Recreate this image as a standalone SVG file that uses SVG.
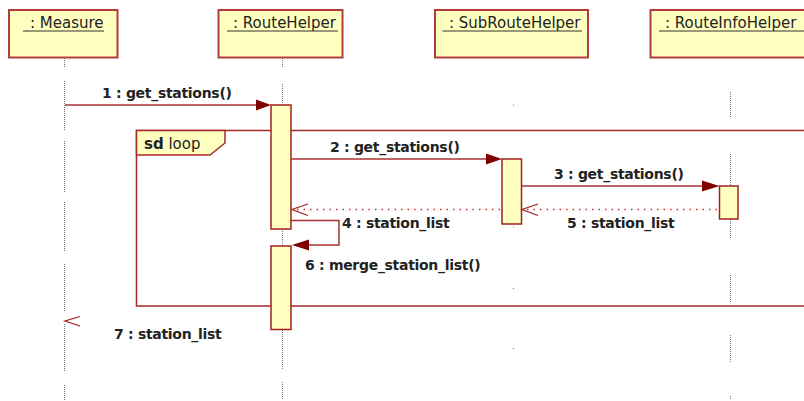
<svg xmlns="http://www.w3.org/2000/svg" width="804" height="401" viewBox="0 0 804 401">
<style>
.hdr{fill:#FFFFC0;stroke:#B23C3C;stroke-width:2}
.act{fill:#FFFFC0;stroke:#A32020;stroke-width:1.5}
.ll{stroke:#707070;stroke-width:1;stroke-dasharray:1 1;fill:none}
.ht{font-family:"DejaVu Sans",sans-serif;font-size:15px;fill:#222}
.ul{stroke:#333;stroke-width:1}
.msg{stroke:#A83232;stroke-width:1.5;fill:none}
.ret{stroke:#C03030;stroke-width:1.3;fill:none;stroke-dasharray:1.5 5}
.open{stroke:#A52020;stroke-width:1.3;fill:none}
.head{fill:#800000}
.ml{font-family:"DejaVu Sans",sans-serif;font-size:14px;font-weight:bold;fill:#222;letter-spacing:-0.3px}
.frame{stroke:#A52A2A;stroke-width:1.5;fill:none}
</style>
<rect width="804" height="401" fill="#fff"/>
<g id="loop-frame">
<polyline class="frame" points="810,130.5 136.5,130.5 136.5,306 810,306"/>
<polygon points="136.5,130.5 225,130.5 225,143 210,155 136.5,155" fill="#FFFFC0" stroke="#A52A2A" stroke-width="1.5"/>
<text x="144" y="148.5" class="ht"><tspan font-weight="bold">sd</tspan> loop</text>
</g>
<g id="measure">
<rect class="hdr" x="9" y="10" width="108.5" height="47.5"/>
<text x="30" y="28" class="ht">: Measure</text>
<line class="ul" x1="23" y1="31" x2="104" y2="31"/>
<path class="ll" d="M64.5,58V68M64.5,81V131M64.5,141V192M64.5,202V252M64.5,264V312M64.5,324V372M64.5,385V400"/>
</g>
<g id="routehelper">
<rect class="hdr" x="218.5" y="10" width="124" height="47.5"/>
<text x="233" y="28" class="ht">: RouteHelper</text>
<line class="ul" x1="227" y1="31" x2="338" y2="31"/>
<path class="ll" d="M282.5,58V67M282.5,84V105M282.5,229V246M282.5,330V370M282.5,382V400"/>
</g>
<g id="subroutehelper">
<rect class="hdr" x="435" y="10" width="153" height="47.5"/>
<text x="449" y="28" class="ht">: SubRouteHelper</text>
<line class="ul" x1="442.5" y1="31" x2="582" y2="31"/>
<path class="ll" d="M513.5,104.5v1M513.5,226.5v1.5M513.5,288v1M513.5,348v1"/>
</g>
<g id="routeinfohelper">
<rect class="hdr" x="650.5" y="10" width="160" height="47.5"/>
<text x="665" y="28" class="ht">: RouteInfoHelper</text>
<line class="ul" x1="659" y1="31" x2="804" y2="31"/>
<path class="ll" d="M730.5,92V118M730.5,154V185M730.5,219V238M730.5,275V302M730.5,335V362M730.5,396V400"/>
</g>
<g id="activations">
<rect class="act" x="271" y="105" width="20" height="124"/>
<rect class="act" x="271" y="246" width="20" height="83.5"/>
<rect class="act" x="502" y="159" width="19.5" height="65"/>
<rect class="act" x="719.5" y="186" width="18.5" height="33"/>
</g>
<g id="connectors">
<line class="msg" x1="65" y1="105" x2="258" y2="105"/>
<polygon class="head" points="271,105 256,99.5 256,110.5"/>
<text x="102" y="98" class="ml">1 : get_stations()</text>
<line class="msg" x1="291" y1="159" x2="488" y2="159"/>
<polygon class="head" points="502,159 486,153.5 486,164.5"/>
<text x="330" y="152" class="ml">2 : get_stations()</text>
<line class="msg" x1="521.5" y1="186" x2="704" y2="186"/>
<polygon class="head" points="719.5,186 702,180.5 702,191.5"/>
<text x="554" y="179" class="ml">3 : get_stations()</text>
<line class="ret" x1="717" y1="209.5" x2="525" y2="209.5"/>
<polyline class="open" points="538,204 522,209.5 538,215.5"/>
<text x="567" y="228" class="ml">5 : station_list</text>
<line class="ret" x1="500" y1="209.5" x2="295" y2="209.5"/>
<polyline class="open" points="308,204 292,209.5 308,215.5"/>
<text x="342" y="228" class="ml">4 : station_list</text>
<polyline class="msg" points="291,220.5 339,220.5 339,245 306,245"/>
<polygon class="head" points="292,245 309,239.5 309,250.5"/>
<text x="305" y="270" class="ml">6 : merge_station_list()</text>
<polyline class="open" points="80,316.5 65,321 80,326"/>
<text x="114" y="339" class="ml">7 : station_list</text>
</g>
</svg>
